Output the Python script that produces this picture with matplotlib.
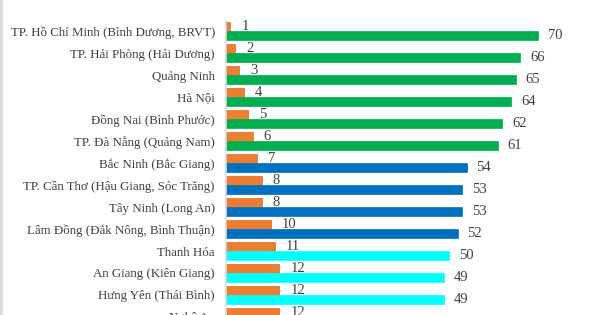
import matplotlib
matplotlib.use("Agg")
import matplotlib.pyplot as plt
from matplotlib.lines import Line2D
import numpy as np

provinces = [
    "TP. Hồ Chí Minh (Bình Dương, BRVT)",
    "TP. Hải Phòng (Hải Dương)",
    "Quảng Ninh",
    "Hà Nội",
    "Đồng Nai (Bình Phước)",
    "TP. Đà Nẵng (Quảng Nam)",
    "Bắc Ninh (Bắc Giang)",
    "TP. Cần Thơ (Hậu Giang, Sóc Trăng)",
    "Tây Ninh (Long An)",
    "Lâm Đồng (Đắk Nông, Bình Thuận)",
    "Thanh Hóa",
    "An Giang (Kiên Giang)",
    "Hưng Yên (Thái Bình)",
    "Nghệ An",
]
rank = [1, 2, 3, 4, 5, 6, 7, 8, 8, 10, 11, 12, 12, 12]
score = [70, 66, 65, 64, 62, 61, 54, 53, 53, 52, 50, 49, 49, 49]
score_colors = ["#00B050"] * 6 + ["#0070C0"] * 4 + ["#00FFFF"] * 4

orange = "#ED7D31"
text_color = "#404040"
font = "Liberation Serif"

fig = plt.figure(figsize=(6, 3.15), dpi=100)
ax = fig.add_axes([226 / 600, 1 - 328 / 315, 356.6 / 600, 308 / 315])

y = np.arange(len(provinces))
h = 0.41
ax.barh(y - h / 2, rank, height=h, color=orange, edgecolor="#E06A20", linewidth=0.5)
ax.barh(y + h / 2, score, height=h, color=score_colors, edgecolor=score_colors, linewidth=0.5)

for yi, r in zip(y, rank):
    ax.annotate(str(r), (r, yi - h / 2), xytext=(8, 0), textcoords="offset points",
                va="center", ha="left", fontsize=10.5, color=text_color, family=font)
for yi, s in zip(y, score):
    ax.annotate(str(s), (s, yi + h / 2), xytext=(7, 0), textcoords="offset points",
                va="center", ha="left", fontsize=10.5, color=text_color, family=font)

ax.set_xlim(0, 80)
ax.set_ylim(len(provinces) - 0.5, -0.5)
ax.set_yticks(y)
ax.set_yticklabels(provinces, fontsize=9.3, color=text_color, family=font)
ax.set_xticks([])
ax.tick_params(axis="y", length=0, pad=8)
for side in ["top", "right", "bottom"]:
    ax.spines[side].set_visible(False)
ax.spines["left"].set_color("#D9D9D9")
ax.spines["left"].set_linewidth(1.2)

fig.add_artist(Line2D([0.001, 0.001], [0, 1], transform=fig.transFigure,
                      color="#D9D9D9", linewidth=2))

fig.savefig("out.png", dpi=100)
